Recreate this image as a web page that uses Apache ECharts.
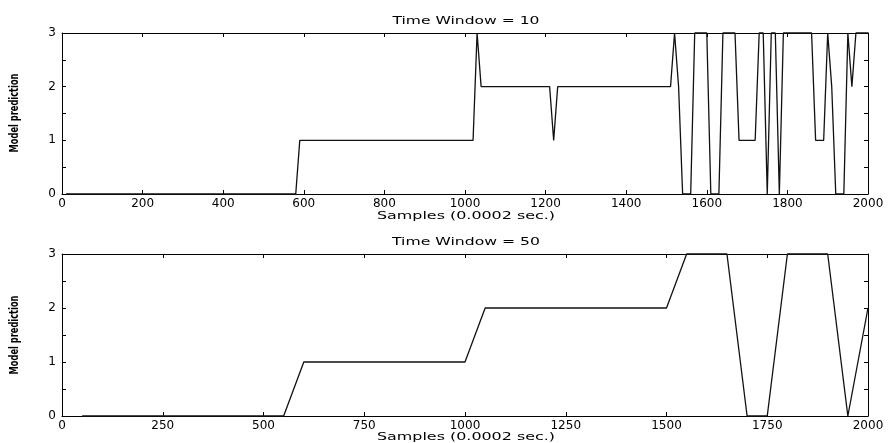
<!DOCTYPE html>
<html><head><meta charset="utf-8">
<script src="https://cdn.jsdelivr.net/npm/echarts@6/dist/echarts.min.js"></script>
<style>html,body{margin:0;padding:0;background:#fff}#c{width:889px;height:443px}</style>
</head><body><div id="c"></div>
<script>
// ---- data (vertices of the polylines) ----
const topX = [10,580,590,1020,1030,1040,1210,1220,1230,1510,1520,1530,1540,1560,1570,1600,1610,1630,1640,1670,1680,1720,1730,1740,1750,1760,1770,1780,1790,1860,1870,1890,1900,1910,1920,1940,1950,1960,1970,2000];
const topY = [0,0,1,1,3,2,2,1,2,2,3,2,0,0,3,3,0,0,3,3,1,1,3,3,0,3,3,0,3,3,1,1,3,2,0,0,3,2,3,3];
const botX = [50,550,600,1000,1050,1500,1550,1650,1700,1750,1800,1900,1950,2000];
const botY = [0,0,1,1,2,2,3,3,0,0,3,3,0,2];
const titles = ['Time Window = 10', 'Time Window = 50'];
const xName = 'Samples (0.0002 sec.)';
const yName = 'Model prediction';
const xSteps = [200, 250];
const yLabels = [0, 1, 2, 3];

const zip = (xs, ys) => xs.map((x, i) => [x, ys[i]]);
const chart = echarts.init(document.getElementById('c'), null, {renderer: 'canvas'});

const FONT = 'DejaVu Sans';
const mctx = document.createElement('canvas').getContext('2d');
function measure(text, font) { mctx.font = font; return mctx.measureText(text).width; }
function stext(text, x, y, size, targetW, bold, rot) {
  const font = (bold ? 'bold ' : '') + size + 'px "' + FONT + '"';
  const s = targetW / measure(text, font);
  return {type: 'text', x: x, y: y, rotation: rot || 0, scaleX: s, scaleY: 1,
    style: {text: text, font: font, fill: '#000', align: 'center', verticalAlign: 'middle'}, silent: true};
}

function xAx(g, step, pos, mirror) {
  return {type: 'value', gridIndex: g, min: 0, max: 2000, interval: step, position: pos,
    axisLine: {show: true, onZero: false, lineStyle: {color: '#000', width: 1}},
    axisTick: {show: true, inside: true, length: 4, lineStyle: {color: '#000'}},
    axisLabel: {show: !mirror, fontFamily: FONT, fontSize: 12, color: '#000', margin: 4, showMinLabel: true, showMaxLabel: true,
      formatter: v => String(v)},
    splitLine: {show: false}};
}
function yAx(g, pos, mirror) {
  return {type: 'value', gridIndex: g, min: 0, max: 3, interval: 0.5, position: pos,
    axisLine: {show: true, onZero: false, lineStyle: {color: '#000', width: 1}},
    axisTick: {show: true, inside: true, length: 4, lineStyle: {color: '#000'}},
    axisLabel: {show: !mirror, fontFamily: FONT, fontSize: 12, color: '#000', margin: 6,
      formatter: v => (yLabels.indexOf(v) >= 0 ? String(v) : '')},
    splitLine: {show: false}};
}

const option = {
  animation: false,
  backgroundColor: '#fff',
  grid: [
    {left: 62, top: 33, width: 806, height: 161},
    {left: 62, top: 254, width: 806, height: 162}
  ],
  xAxis: [xAx(0, xSteps[0], 'bottom'), xAx(0, xSteps[0], 'top', true), xAx(1, xSteps[1], 'bottom'), xAx(1, xSteps[1], 'top', true)],
  yAxis: [yAx(0, 'left'), yAx(0, 'right', true), yAx(1, 'left'), yAx(1, 'right', true)],
  series: [
    {type: 'line', xAxisIndex: 0, yAxisIndex: 0, data: zip(topX, topY), showSymbol: false, clip: false,
      lineStyle: {color: '#111', width: 1.3}},
    {type: 'line', xAxisIndex: 2, yAxisIndex: 2, data: zip(botX, botY), showSymbol: false, clip: false,
      lineStyle: {color: '#111', width: 1.3}}
  ],
  graphic: [
    stext(titles[0], 466, 21, 11, 147, false),
    stext(titles[1], 466, 242, 11, 148, false),
    stext(xName, 466, 216, 11, 178, false),
    stext(xName, 466, 437, 11, 178, false),
    stext(yName, 15, 113, 13, 79, true, Math.PI / 2),
    stext(yName, 15, 335, 13, 79, true, Math.PI / 2)
  ]
};
chart.setOption(option);
</script></body></html>
